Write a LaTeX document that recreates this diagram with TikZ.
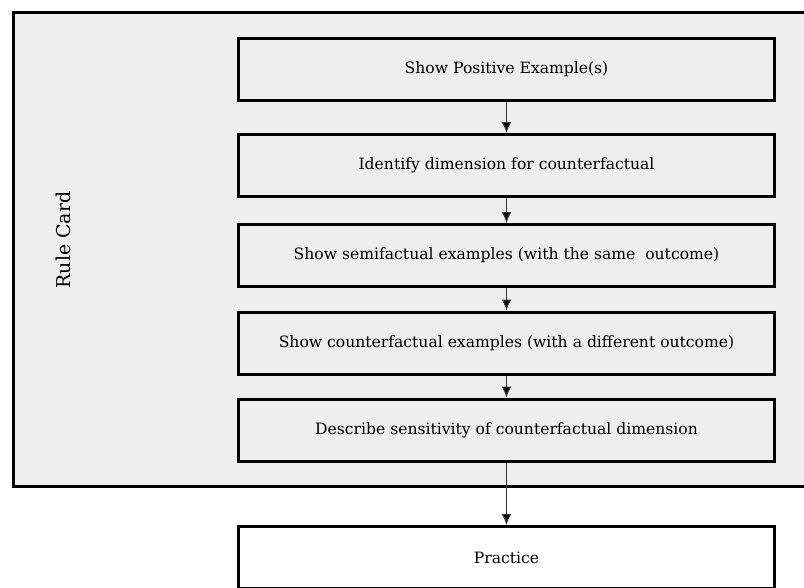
\documentclass[tikz,border=0pt]{standalone}
\usepackage{fontspec}
\setmainfont{DejaVu Serif}
\usetikzlibrary{positioning,arrows.meta}

\definecolor{cardgray}{HTML}{EEEEEE}
\definecolor{linkgray}{HTML}{333333}

\tikzset{
  stepbox/.style={draw, line width=3pt, fill=cardgray, minimum width=536pt,
    minimum height=62pt, font=\fontsize{15.6}{18}\selectfont},
  link/.style={-{Latex[length=11pt,width=10pt]}, draw=linkgray, line width=1.2pt}
}

\begin{document}
\begin{tikzpicture}[x=1pt,y=-1pt,on grid]
  \useasboundingbox (0,0) rectangle (804,587);
  \draw[line width=3pt, fill=cardgray] (13.5,12.5) rectangle (806,486.5);
  \node[rotate=90, font=\fontsize{19}{22}\selectfont] (card) at (63,240) {Rule Card};
  \path
  node[stepbox] (positive) at (506.5,69.5) {Show Positive Example(s)}
  node[stepbox] (dimension) [below=96pt of positive] {Identify dimension for counterfactual}
  node[stepbox] (semi) [below=90pt of dimension] {Show semifactual examples (with the same\ \ outcome)}
  node[stepbox] (counter) [below=87.5pt of semi] {Show counterfactual examples (with a different outcome)}
  node[stepbox] (sensitivity) [below=87pt of counter] {Describe sensitivity of counterfactual dimension}
  node[stepbox, fill=white] (practice) [below=127.5pt of sensitivity] {Practice}
  ;
  \path[link]
  (positive) edge (dimension)
  (dimension) edge (semi)
  (semi) edge (counter)
  (counter) edge (sensitivity)
  (sensitivity) edge (practice)
  ;
\end{tikzpicture}
\end{document}
